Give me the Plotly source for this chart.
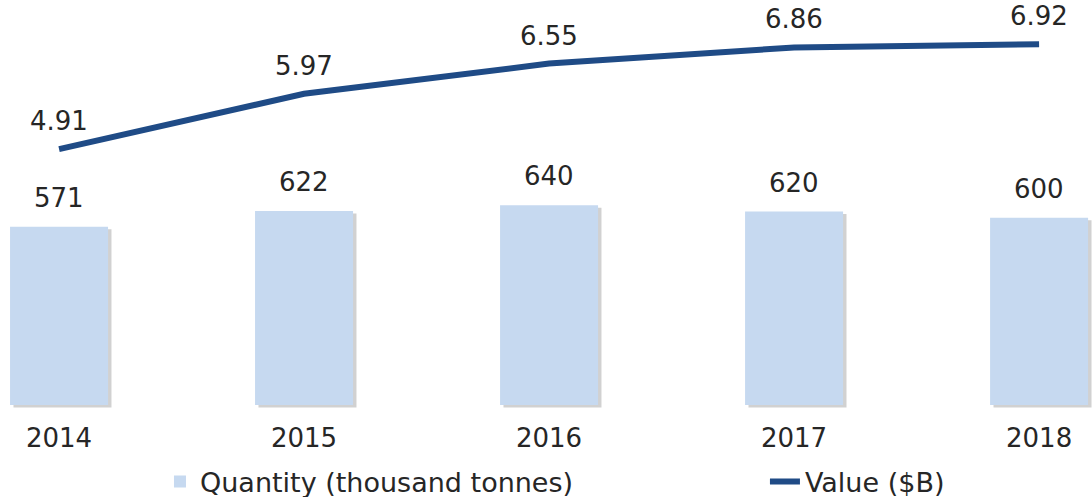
import plotly.graph_objects as go

years = ["2014", "2015", "2016", "2017", "2018"]
quantity = [571, 622, 640, 620, 600]
value = [4.91, 5.97, 6.55, 6.86, 6.92]

FONT = "DejaVu Sans"
TXT = "#262626"
BAR = "#c6d9f0"
LINE = "#1f4b86"

xs = list(range(len(years)))

fig = go.Figure()
# soft shadow of the bars
fig.add_trace(go.Bar(
    x=xs, y=quantity, base=[-8] * len(xs), width=0.4, offset=-0.186,
    marker=dict(color="rgba(90,90,90,0.28)", line=dict(width=0)),
    showlegend=False, hoverinfo="skip"))
fig.add_trace(go.Bar(
    x=xs, y=quantity, width=0.4, offset=-0.2,
    marker=dict(color=BAR, line=dict(width=0)),
    name="Quantity (thousand tonnes)", legend="legend"))
fig.add_trace(go.Scatter(
    x=xs, y=value, yaxis="y2", mode="lines",
    line=dict(color=LINE, width=6),
    name="Value ($B)", cliponaxis=False, legend="legend2"))

ann = []
for i, q in enumerate(quantity):
    ann.append(dict(x=xs[i], y=q, xref="x", yref="y", text=str(q),
                    showarrow=False, yanchor="bottom", yshift=12,
                    font=dict(family=FONT, size=26, color=TXT)))
for i, v in enumerate(value):
    ann.append(dict(x=xs[i], y=v, xref="x", yref="y2", text=f"{v:.2f}",
                    showarrow=False, yanchor="bottom", yshift=11,
                    font=dict(family=FONT, size=26, color=TXT)))

legend_common = dict(orientation="h", xanchor="left", y=-0.1756, yanchor="middle",
                     font=dict(family=FONT, size=27, color=TXT),
                     bgcolor="rgba(0,0,0,0)")

fig.update_layout(
    width=1092, height=497,
    margin=dict(l=0, r=0, t=0, b=87, autoexpand=False),
    paper_bgcolor="white", plot_bgcolor="white",
    barmode="overlay",
    font=dict(family=FONT, size=26, color=TXT),
    xaxis=dict(range=[-0.241, 4.216], tickmode="array", tickvals=xs, ticktext=years,
               showgrid=False, zeroline=False, showline=False, ticks="",
               automargin=False,
               ticklabelstandoff=10, tickfont=dict(family=FONT, size=26, color=TXT)),
    yaxis=dict(range=[-16, 1298], visible=False, showgrid=False, zeroline=False,
               automargin=False),
    yaxis2=dict(range=[-0.096, 7.77], overlaying="y", visible=False,
                showgrid=False, zeroline=False, automargin=False),
    legend=dict(x=0.1465, **legend_common),
    legend2=dict(x=0.7005, **legend_common),
    annotations=ann,
    showlegend=True,
)

fig.write_html("out.html", config={"displayModeBar": False},
               post_script="document.body.style.margin='0';document.body.style.overflow='hidden';")
